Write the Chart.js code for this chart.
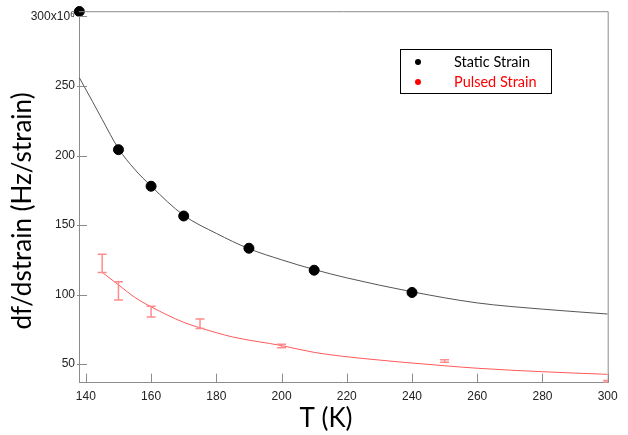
<!DOCTYPE html>
<html>
<head>
<meta charset="utf-8">
<script src="https://cdn.jsdelivr.net/npm/chart.js@4.4.1/dist/chart.umd.min.js"></script>
<style>
html, body { margin: 0; padding: 0; background: #fff; }
</style>
</head>
<body>
<canvas id="myChart" width="628" height="435"></canvas>
<script>
// temperature ticks and strain sensitivity ticks (x10^6)
const xTicks = [140, 160, 180, 200, 220, 240, 260, 280, 300];
const yTicks = [50, 100, 150, 200, 250, 300];

// static strain measurements
const staticT = [138, 150, 160, 170, 190, 210, 240];
const staticV = [303.6, 204.2, 177.9, 156.5, 133.3, 117.5, 101.5];

// static strain fit curve
const staticFitT = [138, 142, 145, 150, 155, 160, 170, 180, 190, 200, 210, 220, 240, 260, 280, 300];
const staticFitV = [256, 239, 226, 205, 190, 178, 157, 144, 133, 125, 118, 112, 102, 94, 89.5, 86];

// pulsed strain measurements with error bars
const pulsedT = [145, 150, 160, 175, 200, 250, 300];
const pulsedV = [122.4, 102.6, 87.7, 79.0, 63.0, 52.2, 37.5];
const pulsedErr = [6.5, 6.6, 3.9, 3.5, 1.3, 0.9, 0.6];

// pulsed strain fit curve
const pulsedFitT = [145, 150, 155, 160, 170, 175, 185, 200, 210, 225, 250, 260, 280, 300];
const pulsedFitV = [116, 107, 98, 91.2, 80, 76.1, 69.5, 63.3, 58.4, 54, 48.8, 47, 44.5, 42.6];

const xTitle = 'T (K)';
const yTitle = 'df/dstrain (Hz/strain)';

function pts(xs, ys) {
    return xs.map((x, i) => ({x: x, y: ys[i]}));
}

// inner tick marks + top/right frame
const framePlugin = {
    id: 'frame',
    afterDraw(chart) {
        const ctx = chart.ctx;
        const a = chart.chartArea;
        const xs = chart.scales.x, ys = chart.scales.y;
        ctx.save();
        ctx.strokeStyle = '#8c8c8c';
        ctx.lineWidth = 1;
        ctx.beginPath();
        ctx.moveTo(a.left, a.top + 0.5);
        ctx.lineTo(a.right + 0.5, a.top + 0.5);
        ctx.lineTo(a.right + 0.5, a.bottom);
        for (const t of xTicks) {
            const px = Math.round(xs.getPixelForValue(t)) + 0.5;
            ctx.moveTo(px, a.bottom);
            ctx.lineTo(px, a.bottom - 9);
        }
        for (const t of yTicks) {
            const py = Math.round(ys.getPixelForValue(t)) + 0.5;
            ctx.moveTo(a.left - 2, py);
            ctx.lineTo(a.left + 8, py);
        }
        ctx.stroke();

        // axis titles
        ctx.fillStyle = '#000';
        ctx.textAlign = 'center';
        ctx.textBaseline = 'middle';
        ctx.font = '26px Lato';
        ctx.fillText(xTitle, 326, 419);
        ctx.translate(23, 211);
        ctx.rotate(-Math.PI / 2);
        ctx.font = '26px Lato';
        ctx.fillText(yTitle, 0, 0);
        ctx.restore();

        // legend
        ctx.save();
        ctx.strokeStyle = '#000';
        ctx.lineWidth = 1;
        ctx.strokeRect(400.5, 49.5, 151, 44);
        ctx.font = '14.5px Lato';
        ctx.textBaseline = 'middle';
        const items = [chart.data.datasets[0], chart.data.datasets[1]];
        items.forEach((d, i) => {
            const y = 62 + i * 20;
            ctx.fillStyle = d.legendColor;
            ctx.beginPath();
            ctx.arc(418, y, 3, 0, Math.PI * 2);
            ctx.fill();
            ctx.fillText(d.label, 454, y);
        });
        ctx.restore();
    }
};

// error bars for the pulsed data
const errorBarPlugin = {
    id: 'errorBars',
    afterDatasetsDraw(chart) {
        const ctx = chart.ctx;
        const a = chart.chartArea;
        const xs = chart.scales.x, ys = chart.scales.y;
        ctx.save();
        ctx.beginPath();
        ctx.rect(a.left, a.top, a.right - a.left, a.bottom - a.top);
        ctx.clip();
        ctx.strokeStyle = '#ff8c8c';
        ctx.lineWidth = 1.5;
        ctx.beginPath();
        for (let i = 0; i < pulsedT.length; i++) {
            const px = xs.getPixelForValue(pulsedT[i]);
            const top = ys.getPixelForValue(pulsedV[i] + pulsedErr[i]);
            const bot = ys.getPixelForValue(pulsedV[i] - pulsedErr[i]);
            ctx.moveTo(px, top);
            ctx.lineTo(px, bot);
            ctx.moveTo(px - 4.5, top);
            ctx.lineTo(px + 4.5, top);
            ctx.moveTo(px - 4.5, bot);
            ctx.lineTo(px + 4.5, bot);
        }
        ctx.stroke();
        ctx.restore();
    }
};

const data = {
    datasets: [
        {
            label: 'Static Strain',
            legendColor: '#000',
            data: pts(staticT, staticV),
            showLine: false,
            pointRadius: 5,
            pointBackgroundColor: '#000',
            pointBorderColor: '#000',
            clip: false,
            order: 0
        },
        {
            label: 'Pulsed Strain',
            legendColor: '#ff0000',
            data: pts(pulsedT, pulsedV),
            showLine: false,
            pointRadius: 0,
            order: 1
        },
        {
            label: 'static fit',
            data: pts(staticFitT, staticFitV),
            showLine: true,
            borderColor: '#555',
            borderWidth: 1,
            pointRadius: 0,
            cubicInterpolationMode: 'monotone',
            order: 2
        },
        {
            label: 'pulsed fit',
            data: pts(pulsedFitT, pulsedFitV),
            showLine: true,
            borderColor: '#ff5a5a',
            borderWidth: 1,
            pointRadius: 0,
            cubicInterpolationMode: 'monotone',
            order: 3
        }
    ]
};

const tickFont = {family: 'Liberation Sans', size: 12};

const config = {
    type: 'scatter',
    data: data,
    options: {
        responsive: false,
        animation: false,
        layout: {padding: {left: 0, top: 10.7, right: 20.3, bottom: 0}},
        plugins: {
            legend: {display: false},
            tooltip: {enabled: false}
        },
        scales: {
            x: {
                type: 'linear',
                min: 137.9,
                max: 300,
                afterBuildTicks: (s) => { s.ticks = xTicks.map(v => ({value: v})); },
                afterFit: (s) => { s.height = 52.3; },
                grid: {drawOnChartArea: false, drawTicks: false},
                border: {color: '#8c8c8c', width: 1},
                ticks: {font: tickFont, color: '#222', padding: 7, autoSkip: false, maxRotation: 0}
            },
            y: {
                type: 'linear',
                min: 36.6,
                max: 303.8,
                afterBuildTicks: (s) => { s.ticks = yTicks.map(v => ({value: v})); },
                afterFit: (s) => { s.width = 79; },
                grid: {drawOnChartArea: false, drawTicks: false},
                border: {color: '#8c8c8c', width: 1},
                ticks: {
                    font: tickFont, color: '#222', padding: 4, autoSkip: false,
                    callback: (v) => v === 300 ? '300x10\u2076' : String(v)
                }
            }
        }
    },
    plugins: [errorBarPlugin, framePlugin]
};

window.onload = function() {
    const ctx = document.getElementById('myChart').getContext('2d');
    new Chart(ctx, config);
};
</script>
</body>
</html>
